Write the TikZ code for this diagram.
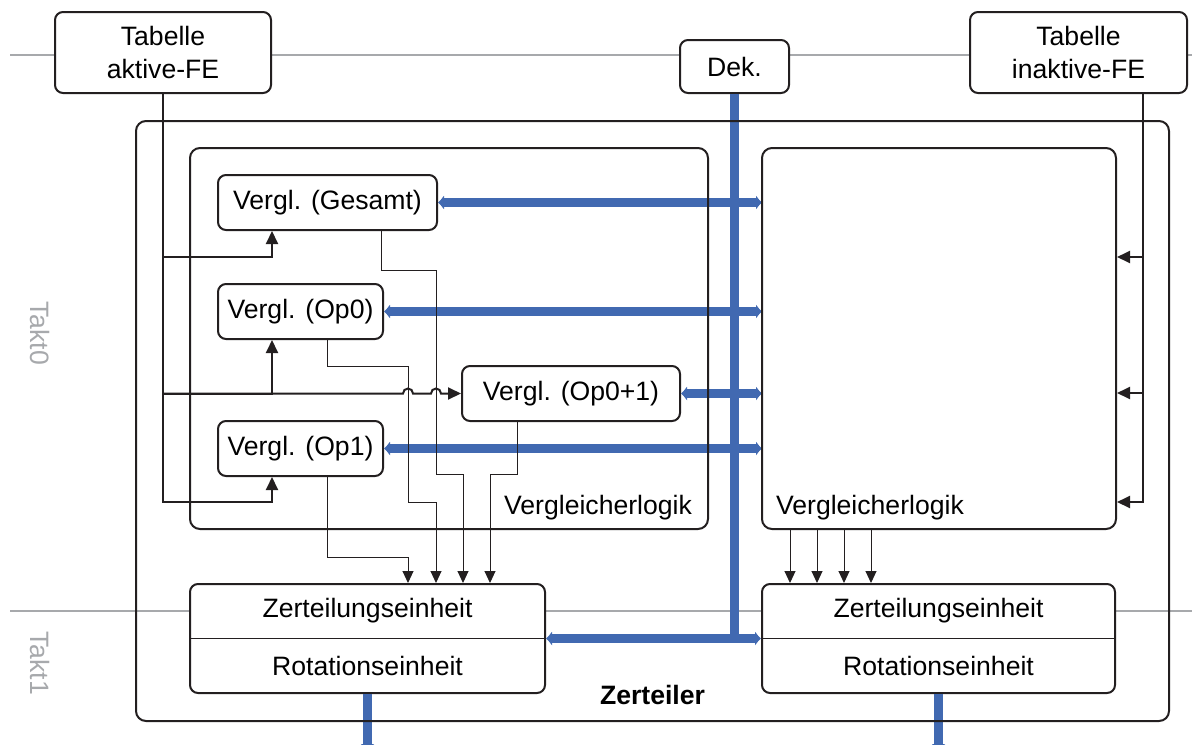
\documentclass[tikz,border=0pt]{standalone}
\usepackage{fontspec}
\setmainfont{Liberation Sans}
\usetikzlibrary{arrows.meta}
\definecolor{bus}{HTML}{4169B1}
\definecolor{takt}{HTML}{A7A9AC}
\definecolor{ink}{HTML}{231F20}
\begin{document}
\begin{tikzpicture}[x=0.5pt,y=-0.5pt,
    font=\fontsize{13.3}{16.5}\selectfont,
    box/.style={draw=ink,line width=1pt,rounded corners=4pt,fill=white,inner sep=0pt,align=center},
    frame/.style={draw=ink,line width=1pt,rounded corners=5pt,inner sep=0pt},
    busline/.style={draw=bus,line width=4.5pt},
    tip/.tip={Latex[length=3pt,width=7.5pt]},
    ctl/.style={draw=ink,line width=1pt,-{Triangle[length=6.5pt,width=6pt]}},
    sig/.style={draw=ink,line width=0.5pt,-{Triangle[length=6pt,width=5.5pt]}}]
  \useasboundingbox (0,0) rectangle (1192,744);
  % Taktgrenzen
  \draw[takt,line width=1pt] (10,55) -- (1192,55);
  \draw[takt,line width=1pt] (10,611) -- (1192,611);
  \node[rotate=-90,text=takt] (t0) at (40,333) {Takt0};
  \node[rotate=-90,text=takt] (t1) at (40,663) {Takt1};
  % Tabellen und Dekoder
  \node[box,minimum width=108pt,minimum height=40.5pt] (aktiv) at (163,52.5) {Tabelle\\aktive-FE};
  \node[box,minimum width=108.5pt,minimum height=40.5pt] (inaktiv) at (1078.5,52.5) {Tabelle\\inaktive-FE};
  \node[box,minimum width=54.5pt,minimum height=26.5pt] (dek) at (734.5,66.5) {Dek.};
  % Vergleicher
  \node[box,minimum width=109.5pt,minimum height=27.5pt] (gesamt) at (327.5,202.5) {Vergl. (Gesamt)};
  \node[box,minimum width=82.5pt,minimum height=27.5pt] (op0) at (300.5,311.5) {Vergl. (Op0)};
  \node[box,minimum width=109pt,minimum height=27.5pt] (op01) at (571,393.5) {Vergl. (Op0+1)};
  \node[box,minimum width=82.5pt,minimum height=27.5pt] (op1) at (300.5,448.5) {Vergl. (Op1)};
  % Zerteilung / Rotation
  \node[box,minimum width=177.5pt,minimum height=54.5pt] (zl) at (367.5,638.5) {};
  \node[box,minimum width=176.5pt,minimum height=54.5pt] (zr) at (938.5,638.5) {};
  \foreach \z in {zl,zr}{
    \draw[ink,line width=0.5pt] (\z.west) -- (\z.east);
    \path (\z.north) -- node {Zerteilungseinheit} (\z.center);
    \path (\z.center) -- node {Rotationseinheit} (\z.south);
  }
  % Busse
  \draw[busline,-tip] (dek.south) |- (zl.east);
  \draw[busline,-tip] (dek.south) |- (zr.west);
  \draw[busline,tip-tip] (gesamt.east) -- (gesamt.east -| 762,0);
  \draw[busline,tip-tip] (op0.east) -- (op0.east -| 762,0);
  \draw[busline,tip-tip] (op01.east) -- (op01.east -| 762,0);
  \draw[busline,tip-tip] (op1.east) -- (op1.east -| 762,0);
  \draw[busline,-tip] (zl.south) -- (zl.south |- 0,750);
  \draw[busline,-tip] (zr.south) -- (zr.south |- 0,750);
  % Rahmen
  \node[frame,minimum width=516.5pt,minimum height=300pt] (zerteiler) at (652.5,421) {};
  \node[frame,minimum width=259pt,minimum height=190.5pt] (vl) at (449,338.5) {};
  \node[frame,minimum width=177pt,minimum height=190.5pt] (vr) at (939,338.5) {};
  \node[anchor=base east] at ([xshift=-5pt,yshift=8pt]vl.south east) {Vergleicherlogik};
  \node[anchor=base west] at ([xshift=4pt,yshift=8pt]vr.south west) {Vergleicherlogik};
  \node[anchor=base] at ([yshift=9pt]zerteiler.south) {\textbf{Zerteiler}};
  % Steuerleitungen aktive-FE
  \draw[ctl] (aktiv.south) |- (272,257) -- (272,0 |- gesamt.south);
  \draw[ctl] (aktiv.south |- op01.west) -| (272,0 |- op0.south);
  \draw[ctl] (aktiv.south |- op01.west) -- (403,393.5) arc[start angle=180,end angle=0,radius=2.5pt]
     -- (431,393.5) arc[start angle=180,end angle=0,radius=2.5pt] -- (op01.west);
  \draw[ctl] (aktiv.south) |- (272,502) -- (272,0 |- op1.south);
  % Steuerleitungen inaktive-FE
  \foreach \y in {257,393,502}
    \draw[ctl] ([xshift=32pt]inaktiv.south) |- (vr.east |- 0,\y);
  % Ergebnisse zur Zerteilungseinheit
  \draw[sig] ([xshift=27pt]gesamt.south) |- (436,270) |- (463,474) -- (463,0 |- zl.north);
  \draw[sig] ([xshift=13.25pt]op0.south) |- (408,366) |- (436,502) -- (436,0 |- zl.north);
  \draw[sig] ([xshift=-27pt]op01.south) |- (490,474) -- (490,0 |- zl.north);
  \draw[sig] ([xshift=13.25pt]op1.south) |- (408,557) -- (408,0 |- zl.north);
  \foreach \x in {790,817,844,871}
    \draw[sig] (\x,0 |- vr.south) -- (\x,0 |- zr.north);
\end{tikzpicture}
\end{document}
